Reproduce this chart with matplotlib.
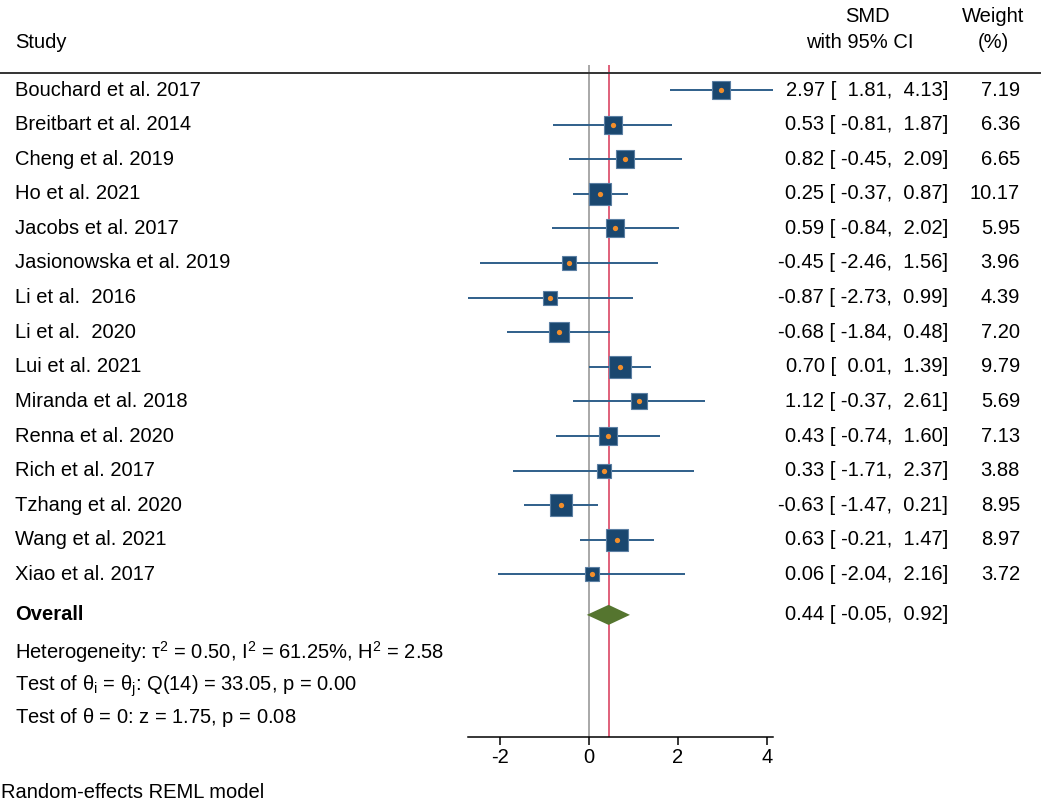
import matplotlib.pyplot as plt
import numpy as np
from matplotlib.transforms import blended_transform_factory

plt.rcParams["font.family"] = ["Liberation Sans", "DejaVu Sans"]

# ---- data ---------------------------------------------------------------
studies = [
    "Bouchard et al. 2017", "Breitbart et al. 2014", "Cheng et al. 2019",
    "Ho et al. 2021", "Jacobs et al. 2017", "Jasionowska et al. 2019",
    "Li et al.  2016", "Li et al.  2020", "Lui et al. 2021",
    "Miranda et al. 2018", "Renna et al. 2020", "Rich et al. 2017",
    "Tzhang et al. 2020", "Wang et al. 2021", "Xiao et al. 2017",
]
smd = np.array([2.97, 0.53, 0.82, 0.25, 0.59, -0.45, -0.87, -0.68, 0.70,
                1.12, 0.43, 0.33, -0.63, 0.63, 0.06])
ci_low = np.array([1.81, -0.81, -0.45, -0.37, -0.84, -2.46, -2.73, -1.84,
                   0.01, -0.37, -0.74, -1.71, -1.47, -0.21, -2.04])
ci_high = np.array([4.13, 1.87, 2.09, 0.87, 2.02, 1.56, 0.99, 0.48, 1.39,
                    2.61, 1.60, 2.37, 0.21, 1.47, 2.16])
weights = np.array([7.19, 6.36, 6.65, 10.17, 5.95, 3.96, 4.39, 7.20, 9.79,
                    5.69, 7.13, 3.88, 8.95, 8.97, 3.72])
overall = (0.44, -0.05, 0.92)
xticks = [-2, 0, 2, 4]

# ---- layout (one axes over the whole figure, x in SMD units) -----------
W, H = 1050, 810
px_zero, px_per_unit = 589, 44.5
row0_px, row_px = 90, 34.6

fig = plt.figure(figsize=(W / 100, H / 100), dpi=100)
ax = fig.add_axes([0, 0, 1, 1])
ax.set_xlim(-px_zero / px_per_unit, (W - px_zero) / px_per_unit)
ax.set_ylim((H - row0_px) / row_px, -row0_px / row_px)

fs = 14.5
navy = "#1a476f"
rows = np.arange(len(studies))
row_overall = 15.17
row_axis = 18.7

# reference lines
ax.vlines(0, -0.72, row_axis, color="#9a9a9a", lw=1.2, zorder=1)
ax.vlines(overall[0], -0.72, row_axis, color="#e0607a", lw=1.4, zorder=1)

# study CIs and boxes
ax.hlines(rows, ci_low, ci_high, color="#2f5f8a", lw=1.4, zorder=2)
for r, m, w in zip(rows, smd, weights):
    ax.plot(m, r, marker="s", ms=5.1 * np.sqrt(w), color=navy,
            mec="#5b7fa3", mew=0.8, zorder=3)
ax.plot(smd, rows, "o", ms=3.8, color="#f28e2b", mec="none", zorder=4)

# overall diamond
est, lo, hi = overall
ax.fill([lo, est, hi, est], [row_overall, row_overall - 0.29,
                             row_overall, row_overall + 0.29],
        color="#55752f", lw=0, zorder=3)

# x axis
for s in ["top", "left", "right"]:
    ax.spines[s].set_visible(False)
ax.spines["bottom"].set_position(("data", row_axis))
ax.spines["bottom"].set_bounds(ci_low.min(), ci_high.max())
ax.spines["bottom"].set_linewidth(1.1)
ax.set_xticks(xticks)
ax.set_xticklabels([str(t) for t in xticks])
ax.tick_params(axis="x", direction="out", length=6, width=1.1,
               labelsize=fs, pad=2)
ax.set_yticks([])

# ---- text columns -------------------------------------------------------
tr = blended_transform_factory(fig.transFigure, ax.transData)
x_left = 15 / W
x_ci = 948 / W
x_wt = 1020 / W

for r, name, m, l, h, w in zip(rows, studies, smd, ci_low, ci_high, weights):
    ax.text(x_left, r, name, transform=tr, fontsize=fs, va="center")
    ax.text(x_ci, r, f"{m:.2f} [{l:>6.2f}, {h:>5.2f}]", transform=tr,
            fontsize=fs, va="center", ha="right")
    ax.text(x_wt, r, f"{w:.2f}", transform=tr, fontsize=fs,
            va="center", ha="right")

ax.text(x_left, row_overall, "Overall", transform=tr, fontsize=fs,
        va="center", fontweight="bold")
ax.text(x_ci, row_overall, f"{est:.2f} [{lo:>6.2f}, {hi:>5.2f}]",
        transform=tr, fontsize=fs, va="center", ha="right")
ax.text(x_left, 16.24,
        r"Heterogeneity: $\mathregular{\tau^2}$ = 0.50, "
        r"$\mathregular{I^2}$ = 61.25%, $\mathregular{H^2}$ = 2.58",
        transform=tr, fontsize=fs, va="center")
ax.text(x_left, 17.22,
        r"Test of $\mathregular{\theta_i}$ = $\mathregular{\theta_j}$: "
        "Q(14) = 33.05, p = 0.00",
        transform=tr, fontsize=fs, va="center")
ax.text(x_left, 18.15, r"Test of $\mathregular{\theta}$ = 0: z = 1.75, p = 0.08",
        transform=tr, fontsize=fs, va="center")

# header
ax.text(x_left, -1.36, "Study", transform=tr, fontsize=fs, va="center")
ax.text(867 / W, -2.11, "SMD", transform=tr, fontsize=fs, va="center",
        ha="center")
ax.text(860 / W, -1.36, "with 95% CI", transform=tr, fontsize=fs,
        va="center", ha="center")
ax.text(993 / W, -2.11, "Weight", transform=tr, fontsize=fs, va="center",
        ha="center")
ax.text(993 / W, -1.36, "(%)", transform=tr, fontsize=fs, va="center",
        ha="center")
ax.plot([0, 1040 / W], [-0.49, -0.49], transform=tr, color="#333333",
        lw=1.4, clip_on=False)

fig.text(1 / W, 1 - 793 / H, "Random-effects REML model", fontsize=fs,
         va="center")

fig.savefig("out.png", dpi=100)
